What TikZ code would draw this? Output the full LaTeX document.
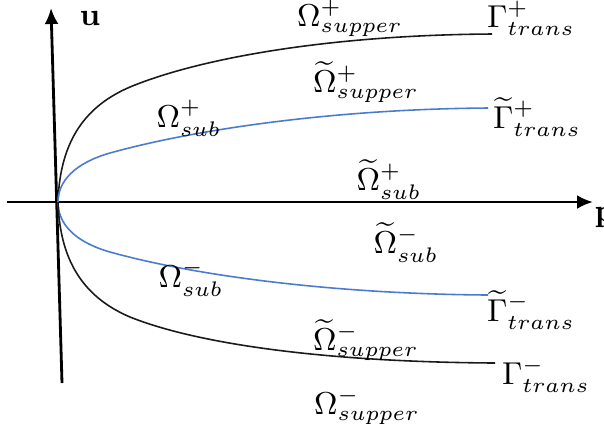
\documentclass[tikz,border=0pt]{standalone}
\usepackage{amsmath}
\usepackage{xcolor}
\usepackage{tikz}
\usetikzlibrary{arrows.meta}
\definecolor{TransBlue}{HTML}{4A7BD0}
\definecolor{TransBlack}{HTML}{1A1A1A}

\begin{document}
\begin{tikzpicture}[x=1cm,y=1cm,
  axis/.style={line width=0.8pt,-{Latex[length=1.6mm,width=1.4mm]}},
  outer/.style={TransBlack,line width=0.45pt},
  inner/.style={TransBlue,line width=0.45pt},
  lbl/.style={inner sep=0pt,font=\small}]
\path[use as bounding box] (0,0) rectangle (6.04,4.23);
\coordinate (O) at (0.58,2.21);
\coordinate (xs) at (0.07,2.21);
\coordinate (xe) at (5.93,2.21);
\coordinate (ys) at (0.62,0.40);
\coordinate (ye) at (0.51,4.15);
\coordinate (bu) at (4.92,3.89);
\coordinate (cu) at (4.88,3.15);
\coordinate (cl) at (4.88,1.28);
\coordinate (bl) at (4.95,0.60);
\draw[axis] (xs) -- (xe);
\draw[axis] (ys) -- (ye);
\node[lbl,anchor=center] (u) at (0.90,4.05) {\textbf{u}};
\node[lbl,anchor=north west] (p) at (5.94,2.16) {\textbf{p}};
\draw[outer] (O) .. controls (0.60,2.85) and (0.88,3.18) .. (1.30,3.36)
  .. controls (2.00,3.65) and (3.30,3.88) .. (bu);
\draw[inner] (O) .. controls (0.58,2.42) and (0.75,2.60) .. (1.10,2.70)
  .. controls (2.00,2.95) and (3.40,3.14) .. (cu);
\draw[inner] (O) .. controls (0.58,1.99) and (0.75,1.81) .. (1.10,1.71)
  .. controls (2.00,1.46) and (3.40,1.29) .. (cl);
\draw[outer] (O) .. controls (0.60,1.57) and (0.88,1.24) .. (1.30,1.06)
  .. controls (2.00,0.78) and (3.30,0.61) .. (bl);
\node[lbl] (sup1) at (3.50,4.05) {$\Omega^{+}_{supper}$};
\node[lbl] (gt1) at (5.31,4.05) {$\Gamma^{+}_{trans}$};
\node[lbl] (tsup1) at (3.66,3.41) {$\widetilde{\Omega}^{+}_{supper}$};
\node[lbl] (tgt1) at (5.37,3.06) {$\widetilde{\Gamma}^{+}_{trans}$};
\node[lbl] (sub1) at (1.89,3.05) {$\Omega^{+}_{sub}$};
\node[lbl] (tsub1) at (3.89,2.43) {$\widetilde{\Omega}^{+}_{sub}$};
\node[lbl] (tsub2) at (4.06,1.80) {$\widetilde{\Omega}^{-}_{sub}$};
\node[lbl] (sub2) at (1.91,1.45) {$\Omega^{-}_{sub}$};
\node[lbl] (tgt2) at (5.31,1.13) {$\widetilde{\Gamma}^{-}_{trans}$};
\node[lbl] (tsup2) at (3.66,0.83) {$\widetilde{\Omega}^{-}_{supper}$};
\node[lbl] (gt2) at (5.46,0.48) {$\Gamma^{-}_{trans}$};
\node[lbl] (sup2) at (3.67,0.17) {$\Omega^{-}_{supper}$};
\end{tikzpicture}
\end{document}
